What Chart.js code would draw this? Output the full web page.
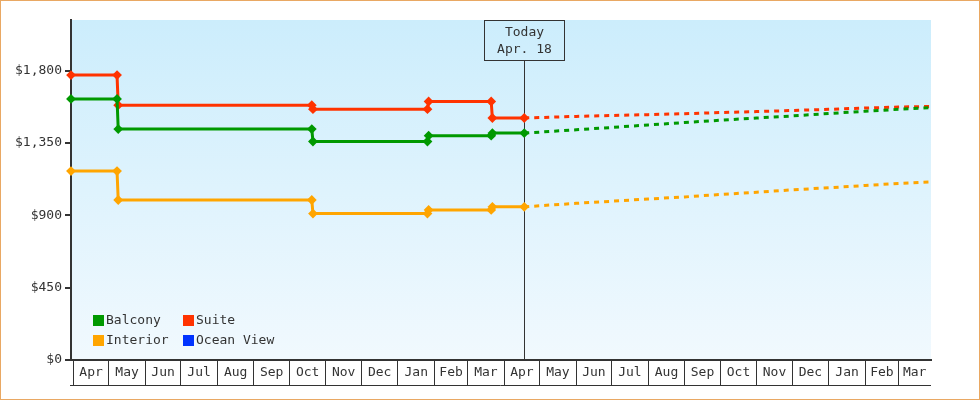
<!DOCTYPE html>
<html>
<head>
<meta charset="utf-8">
<script src="https://cdn.jsdelivr.net/npm/chart.js@4.4.0/dist/chart.umd.min.js"></script>
<style>
body{margin:0;background:#fff;}
#wrap{width:980px;height:400px;box-sizing:border-box;border:1px solid #e9a863;background:#fff;}
canvas{display:block;}
</style>
</head>
<body>
<div id="wrap"><canvas id="priceChart" width="978" height="398"></canvas></div>
<script>
// cabin types
const seriesNames  = ['Balcony', 'Suite', 'Interior', 'Ocean View'];
const seriesColors = ['#009900', '#ff3300', '#ffa500', '#0033ff'];

// observed prices (two points at each change date)
const histDates = ['2017-03-30', '2017-05-08', '2017-05-09', '2017-10-20', '2017-10-21',
                   '2018-01-26', '2018-01-27', '2018-03-21', '2018-03-22', '2018-04-18'];
const balconyHist  = [1625, 1625, 1437, 1437, 1360, 1360, 1396, 1396, 1412, 1412];
const suiteHist    = [1773, 1773, 1586, 1586, 1561, 1561, 1609, 1609, 1506, 1506];
const interiorHist = [1176, 1176, 996, 996, 911, 911, 934, 934, 953, 953];
const oceanHist    = [];

// projected prices
const projDates = ['2018-05-01', '2018-06-01', '2018-07-01', '2018-08-01', '2018-09-01', '2018-10-01',
                   '2018-11-01', '2018-12-01', '2019-01-01', '2019-02-01', '2019-03-01', '2019-03-28'];
const balconyProj  = [1418, 1433, 1447, 1463, 1478, 1492, 1506, 1519, 1534, 1548, 1560, 1571];
const suiteProj    = [1509, 1516, 1522, 1527, 1533, 1540, 1546, 1553, 1560, 1568, 1574, 1578];
const interiorProj = [960, 975, 988, 1002, 1015, 1030, 1044, 1059, 1072, 1086, 1099, 1108];
const oceanProj    = [];

const monthNames  = ['Jan','Feb','Mar','Apr','May','Jun','Jul','Aug','Sep','Oct','Nov','Dec'];
const yTickValues = [0, 450, 900, 1350, 1800];
const yMax = 2116;

const todayDate  = '2018-04-18';
const todayLabel = ['Today', 'Apr. 18'];
const axisStart  = '2017-03-30';
const axisEnd    = '2019-03-28T15:00Z';

const DAY = 86400000;
const origin = Date.parse('2017-04-01');
const dayOf = s => (Date.parse(s) - origin) / DAY;

const xMin = dayOf(axisStart), xMax = dayOf(axisEnd);

// month cells: edge ticks at month starts, label ticks at the middle of each visible month
const xTickList = [];
for (let m = 0; ; m++) {
    const start = (Date.UTC(2017, 3 + m, 1) - origin) / DAY;
    if (start >= xMax) break;
    const end = Math.min((Date.UTC(2017, 4 + m, 1) - origin) / DAY, xMax);
    xTickList.push({value: start, edge: true, label: ''});
    xTickList.push({value: (start + end) / 2, edge: false, label: monthNames[(3 + m) % 12]});
}

function toPoints(dates, vals){
    return vals.map((v, i) => ({x: dayOf(dates[i]), y: v}));
}

const hists = [balconyHist, suiteHist, interiorHist, oceanHist];
const projs = [balconyProj, suiteProj, interiorProj, oceanProj];
const nHist = histDates.length;

const datasets = seriesNames.map((name, i) => ({
    label: name,
    data: hists[i].length ? toPoints(histDates, hists[i]).concat(toPoints(projDates, projs[i])) : [],
    borderColor: seriesColors[i],
    backgroundColor: seriesColors[i],
    borderWidth: 3,
    tension: 0,
    clip: false,
    pointStyle: 'rectRot',
    pointRadius: ctx => ctx.dataIndex < nHist ? 3.5 : 0,
    pointBorderWidth: 2,
    segment: {
        borderDash: ctx => ctx.p0DataIndex >= nHist - 1 ? [5, 5] : undefined
    }
}));

const plotBackground = {
    id: 'plotBackground',
    beforeDraw(chart){
        const {ctx, chartArea: a} = chart;
        const g = ctx.createLinearGradient(0, a.top, 0, a.bottom);
        g.addColorStop(0, '#ccedfc');
        g.addColorStop(1, '#f1f9fe');
        ctx.save();
        ctx.fillStyle = g;
        ctx.fillRect(a.left, a.top, a.right - a.left, a.bottom - a.top);
        ctx.restore();
    }
};

const todayMarker = {
    id: 'todayMarker',
    beforeDatasetsDraw(chart){
        const {ctx, chartArea: a, scales} = chart;
        const x = Math.round(scales.x.getPixelForValue(dayOf(todayDate))) + 0.5;
        ctx.save();
        ctx.strokeStyle = '#333';
        ctx.lineWidth = 1;
        ctx.beginPath();
        ctx.moveTo(x, a.top + 40);
        ctx.lineTo(x, a.bottom);
        ctx.stroke();
        ctx.restore();
    },
    afterDatasetsDraw(chart){
        const {ctx, chartArea: a, scales} = chart;
        const x = Math.round(scales.x.getPixelForValue(dayOf(todayDate)));
        ctx.save();
        ctx.strokeStyle = '#333';
        ctx.lineWidth = 1;
        ctx.strokeRect(x - 40 + 0.5, a.top + 0.5, 80, 40);
        ctx.fillStyle = '#333';
        ctx.font = '13px "DejaVu Sans Mono"';
        ctx.textAlign = 'center';
        ctx.textBaseline = 'middle';
        ctx.fillText(todayLabel[0], x + 0.5, a.top + 13);
        ctx.fillText(todayLabel[1], x + 0.5, a.top + 30);
        ctx.restore();
    }
};

const cornerLegend = {
    id: 'cornerLegend',
    afterDatasetsDraw(chart){
        const {ctx, chartArea: a} = chart;
        ctx.save();
        ctx.font = '13px "DejaVu Sans Mono"';
        ctx.textBaseline = 'middle';
        chart.data.datasets.forEach((ds, i) => {
            const x = a.left + 22 + (i % 2) * 90;
            const y = a.bottom - 45 + Math.floor(i / 2) * 20;
            ctx.fillStyle = ds.borderColor;
            ctx.fillRect(x, y, 11, 11);
            ctx.fillStyle = '#333';
            ctx.fillText(ds.label, x + 13, y + 6);
        });
        ctx.restore();
    }
};

const cellBottom = {
    id: 'cellBottom',
    afterDraw(chart){
        const {ctx, scales} = chart;
        const sx = scales.x;
        ctx.save();
        ctx.strokeStyle = '#333';
        ctx.lineWidth = 1;
        ctx.beginPath();
        ctx.moveTo(sx.left - 1, Math.round(sx.top + 25) + 0.5);
        ctx.lineTo(sx.right, Math.round(sx.top + 25) + 0.5);
        ctx.stroke();
        ctx.restore();
    }
};

Chart.defaults.font.family = '"DejaVu Sans Mono", monospace';
Chart.defaults.font.size = 13;
Chart.defaults.color = '#333';

new Chart(document.getElementById('priceChart'), {
    type: 'line',
    data: {datasets: datasets},
    options: {
        responsive: false,
        animation: false,
        events: [],
        layout: {padding: {top: 19, right: 48, bottom: 0, left: 0}},
        plugins: {legend: {display: false}, tooltip: {enabled: false}},
        scales: {
            x: {
                type: 'linear',
                min: xMin,
                max: xMax,
                afterFit: s => { s.height = 39; },
                afterBuildTicks: s => { s.ticks = xTickList.map(t => ({value: t.value})); },
                border: {display: true, color: '#333', width: 2},
                grid: {
                    drawOnChartArea: false,
                    drawTicks: true,
                    tickLength: 25,
                    lineWidth: 1,
                    color: ctx => (xTickList[ctx.index] && xTickList[ctx.index].edge) ? '#333' : 'rgba(0,0,0,0)'
                },
                ticks: {
                    autoSkip: false,
                    maxRotation: 0,
                    padding: -20,
                    color: '#333',
                    callback: (v, i) => xTickList[i] ? xTickList[i].label : ''
                }
            },
            y: {
                min: 0,
                max: yMax,
                afterFit: s => { s.width = 70; },
                afterBuildTicks: s => { s.ticks = yTickValues.map(v => ({value: v})); },
                border: {display: true, color: '#333', width: 2},
                grid: {drawOnChartArea: false, drawTicks: true, tickLength: 6, lineWidth: 2, color: '#333'},
                ticks: {
                    padding: 3,
                    color: '#333',
                    callback: v => '$' + v.toLocaleString('en-US')
                }
            }
        }
    },
    plugins: [plotBackground, todayMarker, cornerLegend, cellBottom]
});
</script>
</body>
</html>
